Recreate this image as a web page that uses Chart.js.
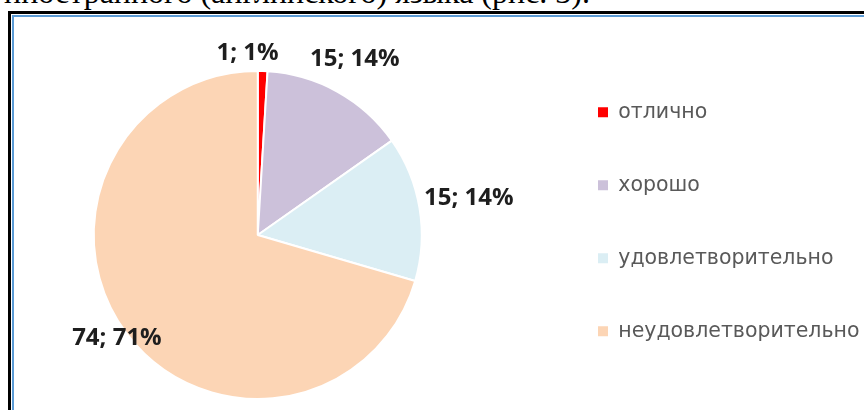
<!DOCTYPE html>
<html>
<head>
  <meta charset="utf-8">
  <script src="https://cdn.jsdelivr.net/npm/chart.js@4/dist/chart.umd.min.js"></script>
  <style>
    html, body { margin: 0; padding: 0; background: #fff; overflow: hidden; }
    body { position: relative; width: 864px; height: 410px; }
    .caption { position: absolute; right: 274px; top: -24px; white-space: nowrap;
      font: 32px/32px "Liberation Serif", serif; color: #000; }
    .frame-outer { position: absolute; left: 8px; top: 11px; width: 900px; height: 450px;
      border-left: 3px solid #000; border-top: 3px solid #000; }
    .frame-inner { position: absolute; left: 12px; top: 15px; width: 900px; height: 450px;
      border-left: 2px solid #5B9BD5; border-top: 2px solid #5B9BD5; }
    /* canvas starts left of the page so the pie can sit left of its box centre */
    #chart { position: absolute; left: -30px; top: 0; }
  </style>
</head>
<body>
  <div class="caption">иностранного (английского) языка (рис. 3).</div>
  <div class="frame-outer"></div>
  <div class="frame-inner"></div>
  <canvas id="chart" width="894" height="410"></canvas>
  <script>
    // data
    var categories = ['отлично', 'хорошо', 'удовлетворительно', 'неудовлетворительно'];
    var counts = [1, 15, 15, 74];
    var sliceColors = ['#FF0000', '#CCC1DA', '#DBEEF4', '#FCD5B5'];

    var legendFont = { family: 'DejaVu Sans', size: 20.5 };
    var legendPad = 52.5;
    var legendX = 628; // canvas coords (page x 598)

    // percentages rounded so they add up to 100, like Excel does
    function roundedPercents(vals) {
      var total = vals.reduce(function(a, b) { return a + b; }, 0);
      var raw = vals.map(function(v) { return v / total * 100; });
      var out = raw.map(Math.floor);
      var left = 100 - out.reduce(function(a, b) { return a + b; }, 0);
      var order = raw.map(function(r, i) { return i; })
        .sort(function(a, b) { return (raw[b] - out[b]) - (raw[a] - out[a]); });
      for (var k = 0; k < left; k++) out[order[k]] += 1;
      return out;
    }
    var percents = roundedPercents(counts);

    // measure the longest legend text so the legend column lands where it should
    var ctx = document.getElementById('chart').getContext('2d');
    ctx.font = legendFont.size + 'px "' + legendFont.family + '"';
    var textW = Math.max.apply(null, categories.map(function(t) { return ctx.measureText(t).width; }));
    var legendW = legendPad + 10 + legendFont.size / 2 + textW + 10;
    var padRight = 894 - (legendX - legendPad) - legendW;

    // value labels "n; p%" outside the slices
    var pieLabels = {
      id: 'pieLabels',
      afterDatasetsDraw: function(chart) {
        var c = chart.ctx;
        var meta = chart.getDatasetMeta(0);
        c.save();
        c.font = 'bold 24px "Open Sans"';
        c.fillStyle = '#1e1e1e';
        c.textAlign = 'center';
        c.textBaseline = 'middle';
        meta.data.forEach(function(arc, i) {
          var txt = counts[i] + '; ' + percents[i] + '%';
          var mid = (arc.startAngle + arc.endAngle) / 2;
          var cos = Math.cos(mid), sin = Math.sin(mid);
          var hw = c.measureText(txt).width / 2, hh = 11;
          var d;
          if (percents[i] > 50) {
            d = arc.outerRadius + 12;
          } else {
            d = arc.outerRadius + Math.abs(hw * cos) + Math.abs(hh * sin) + 4;
          }
          var x = arc.x + cos * d, y = arc.y + sin * d - 2;
          // a sliver at the top gets nudged away from its neighbour's label
          if (percents[i] < 3) x -= hw / 2;
          c.fillText(txt, x, y);
        });
        c.restore();
      }
    };

    var chart = new Chart(ctx, {
      type: 'pie',
      data: {
        labels: categories,
        datasets: [{
          data: counts,
          backgroundColor: sliceColors,
          borderColor: '#ffffff',
          borderWidth: 2
        }]
      },
      options: {
        responsive: false,
        animation: false,
        devicePixelRatio: 1,
        radius: 164,
        layout: { padding: { left: 0, right: padRight, top: 33.5, bottom: 0 } },
        plugins: {
          tooltip: { enabled: false },
          title: {
            display: true,
            text: ' ',
            font: { size: 1, lineHeight: 1 },
            padding: { top: 0, bottom: 25.5 }
          },
          legend: {
            position: 'right',
            align: 'center',
            labels: {
              font: legendFont,
              color: '#595959',
              boxWidth: 10,
              boxHeight: 10,
              padding: legendPad,
              generateLabels: function() {
                return categories.map(function(t, i) {
                  return { text: t, fillStyle: sliceColors[i], strokeStyle: sliceColors[i],
                           lineWidth: 0, hidden: false, index: i, fontColor: '#595959' };
                });
              }
            }
          }
        }
      },
      plugins: [pieLabels]
    });
  </script>
</body>
</html>
